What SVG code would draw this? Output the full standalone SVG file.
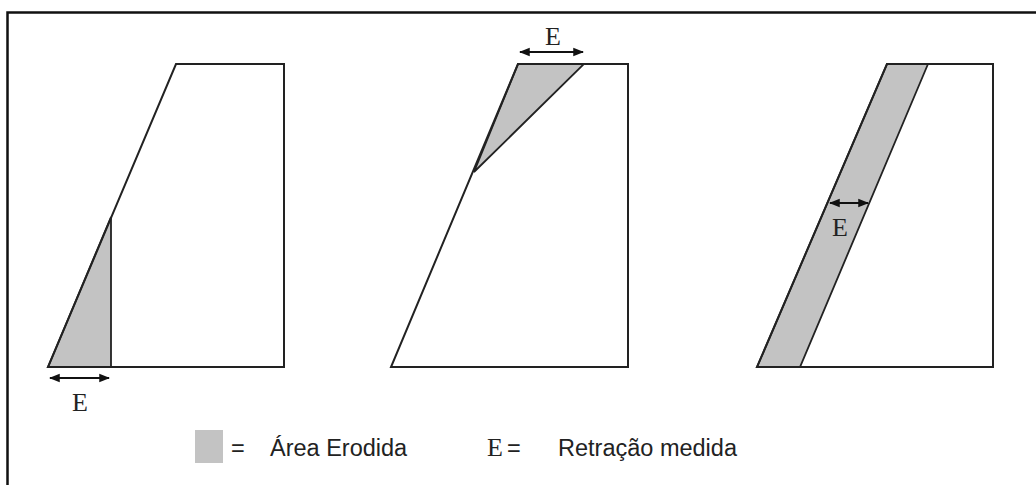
<svg xmlns="http://www.w3.org/2000/svg" width="1036" height="485" viewBox="0 0 1036 485">
<style>
.o{fill:none;stroke:#222;stroke-width:2;stroke-linejoin:miter}
.g{fill:#c3c3c3;stroke:#222;stroke-width:1.8}
.a{stroke:#111;stroke-width:1.8;fill:none}
.m{font-family:"Liberation Serif","DejaVu Serif",serif;font-size:26px;fill:#222;text-anchor:middle}
.s{font-family:"Liberation Sans",Arial,sans-serif;font-size:23.5px;fill:#222}
</style>
<defs>
<marker id="ah" viewBox="0 0 10 10" refX="9" refY="5" markerWidth="6" markerHeight="6" orient="auto-start-reverse">
<path d="M0,1 L10,5 L0,9 Z" fill="#111"/>
</marker>
</defs>
<rect width="1036" height="485" fill="#fff"/>
<path d="M7.5,485 V12.5 H1036" fill="none" stroke="#111" stroke-width="2.5"/>
<g id="node1">
<polygon class="g" points="48,367 111,367 111,217"/>
<polygon class="o" points="176,64 284,64 284,367 48,367"/>
</g>
<g id="node2">
<polygon class="g" points="518,64 584,64 474,172"/>
<polygon class="o" points="518,64 628,64 628,367 391,367"/>
</g>
<g id="node3">
<polygon class="g" points="887,64 928,64 800,367 757,367"/>
<polygon class="o" points="887,64 993,64 993,367 757,367"/>
</g>
<g id="connectors">
<line class="a" x1="50" y1="378" x2="109" y2="378" marker-start="url(#ah)" marker-end="url(#ah)"/>
<line class="a" x1="520" y1="52" x2="583" y2="52" marker-start="url(#ah)" marker-end="url(#ah)"/>
<line class="a" x1="830" y1="203" x2="868" y2="203" marker-start="url(#ah)" marker-end="url(#ah)"/>
</g>
<g id="labels">
<text class="m" x="80" y="411">E</text>
<text class="m" x="553" y="45">E</text>
<text class="m" x="840" y="236">E</text>
</g>
<g id="legend">
<rect x="195" y="430" width="28" height="33" fill="#c3c3c3"/>
<text class="s" x="231" y="456">=</text>
<text class="s" x="270" y="456">Área Erodida</text>
<text class="m" x="495" y="456">E</text>
<text class="s" x="507" y="456">=</text>
<text class="s" x="558" y="456">Retração medida</text>
</g>
</svg>
